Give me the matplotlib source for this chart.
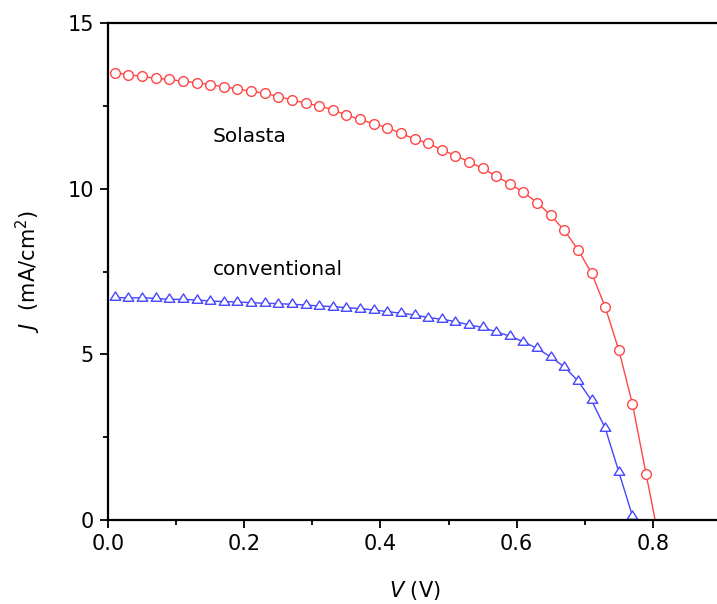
import numpy as np
import matplotlib
matplotlib.use('Agg')
import matplotlib.pyplot as plt
from matplotlib.path import Path
from matplotlib.ticker import MultipleLocator

plt.rcParams['font.family'] = 'DejaVu Sans'

# J-V data (V in volts, J in mA/cm^2)
v_solasta = [0.01, 0.03, 0.05, 0.07, 0.09, 0.11, 0.13, 0.15, 0.17, 0.19,
             0.21, 0.23, 0.25, 0.27, 0.29, 0.31, 0.33, 0.35, 0.37, 0.39,
             0.41, 0.43, 0.45, 0.47, 0.49, 0.51, 0.53, 0.55, 0.57, 0.59,
             0.61, 0.63, 0.65, 0.67, 0.69, 0.71, 0.73, 0.75, 0.77, 0.79, 0.81]
j_solasta = [13.50, 13.44, 13.39, 13.33, 13.30, 13.24, 13.20, 13.14, 13.07, 13.01,
             12.94, 12.88, 12.78, 12.68, 12.58, 12.50, 12.38, 12.22, 12.09, 11.96,
             11.84, 11.67, 11.50, 11.37, 11.17, 11.00, 10.81, 10.61, 10.38, 10.14,
             9.89, 9.58, 9.20, 8.74, 8.16, 7.45, 6.43, 5.13, 3.50, 1.39, -0.70]

v_conv = [0.01, 0.03, 0.05, 0.07, 0.09, 0.11, 0.13, 0.15, 0.17, 0.19,
          0.21, 0.23, 0.25, 0.27, 0.29, 0.31, 0.33, 0.35, 0.37, 0.39,
          0.41, 0.43, 0.45, 0.47, 0.49, 0.51, 0.53, 0.55, 0.57, 0.59,
          0.61, 0.63, 0.65, 0.67, 0.69, 0.71, 0.73, 0.75, 0.77]
j_conv = [6.72, 6.70, 6.71, 6.69, 6.66, 6.66, 6.64, 6.61, 6.59, 6.58,
          6.56, 6.54, 6.53, 6.51, 6.49, 6.46, 6.44, 6.41, 6.38, 6.34,
          6.29, 6.24, 6.19, 6.11, 6.06, 5.99, 5.89, 5.81, 5.68, 5.55,
          5.38, 5.18, 4.92, 4.62, 4.20, 3.61, 2.77, 1.45, 0.12]

# triangle centred on its centroid (like the Origin symbol)
tri = Path([(0, 0.527), (-0.5, -0.263), (0.5, -0.263), (0, 0.527)],
           [Path.MOVETO, Path.LINETO, Path.LINETO, Path.CLOSEPOLY])

fig = plt.figure(figsize=(7.17, 6.04), dpi=100)
ax = fig.add_axes([108 / 717, 84 / 604, 613 / 717, 497 / 604])

ax.plot(v_solasta, j_solasta, color='#ff4646', lw=1.0, marker='o', ms=7,
        mfc='white', mec='#ff4646', mew=1.0)
ax.plot(v_conv, j_conv, color='#4646ff', lw=1.0, marker=tri, ms=8,
        mfc='white', mec='#4646ff', mew=1.0)

ax.text(0.154, 11.56, 'Solasta', fontsize=14.5, va='center', ha='left')
ax.text(0.154, 7.55, 'conventional', fontsize=14.5, va='center', ha='left')

ax.set_xlim(0, 0.9)
ax.set_ylim(0, 15)
ax.xaxis.set_major_locator(MultipleLocator(0.2))
ax.xaxis.set_minor_locator(MultipleLocator(0.1))
ax.yaxis.set_major_locator(MultipleLocator(5))
ax.yaxis.set_minor_locator(MultipleLocator(2.5))
ax.set_xticks([0.0, 0.2, 0.4, 0.6, 0.8])
ax.set_xticklabels(['0.0', '0.2', '0.4', '0.6', '0.8'])
ax.tick_params(which='major', direction='out', length=6, width=1.3,
               labelsize=15, pad=4, top=False, right=False)
ax.tick_params(which='minor', direction='out', length=3.5, width=1.3,
               top=False, right=False)

for s in ['left', 'bottom', 'top']:
    ax.spines[s].set_linewidth(1.6)
ax.spines['right'].set_visible(False)

ax.set_xlabel(r'$\mathit{V}$ (V)', fontsize=15, labelpad=18)
ax.set_ylabel(r'$\mathit{J}$  (mA/cm$^2$)', fontsize=15, labelpad=18)

fig.savefig('out.png', dpi=100)
